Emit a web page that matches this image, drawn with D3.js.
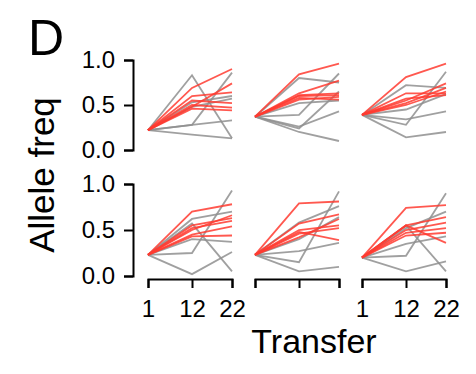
<!DOCTYPE html>
<html>
<head>
<meta charset="utf-8">
<script src="https://cdn.jsdelivr.net/npm/d3@7"></script>
<style>
  body { margin: 0; background: #fff; }
  svg text { font-family: "Liberation Sans", Arial, sans-serif; fill: #000; }
  .axis path, .axis line { stroke: #000; stroke-width: 2px; }
</style>
</head>
<body>
<div id="chart"></div>
<script>
// transfers sampled + axis ticks
const transfers = [1, 12, 22];
const yTicks = [0, 0.5, 1.0];

// allele freq at transfer 1, 12, 22 for each line
// top row
const p1Red = [[0.22, 0.69, 0.90], [0.22, 0.48, 0.74], [0.22, 0.60, 0.64], [0.22, 0.55, 0.52], [0.22, 0.50, 0.47], [0.22, 0.46, 0.44]];
const p1Gray = [[0.22, 0.83, 0.13], [0.22, 0.17, 0.13], [0.22, 0.28, 0.86], [0.22, 0.28, 0.33], [0.22, 0.48, 0.57], [0.22, 0.53, 0.60]];
const p2Red = [[0.37, 0.84, 0.96], [0.37, 0.63, 0.77], [0.37, 0.61, 0.63], [0.37, 0.60, 0.61], [0.37, 0.58, 0.56], [0.37, 0.56, 0.59]];
const p2Gray = [[0.37, 0.80, 0.75], [0.37, 0.39, 0.85], [0.37, 0.26, 0.43], [0.37, 0.20, 0.10], [0.37, 0.24, 0.65], [0.37, 0.52, 0.55]];
const p3Red = [[0.39, 0.81, 0.96], [0.39, 0.63, 0.63], [0.39, 0.55, 0.74], [0.39, 0.52, 0.69], [0.39, 0.57, 0.61], [0.39, 0.50, 0.65]];
const p3Gray = [[0.39, 0.72, 0.69], [0.39, 0.28, 0.87], [0.39, 0.34, 0.43], [0.39, 0.14, 0.20], [0.39, 0.45, 0.62]];
// bottom row
const p4Red = [[0.23, 0.70, 0.78], [0.23, 0.55, 0.63], [0.23, 0.52, 0.60], [0.23, 0.45, 0.54], [0.23, 0.43, 0.44], [0.23, 0.50, 0.66]];
const p4Gray = [[0.23, 0.25, 0.93], [0.23, 0.02, 0.26], [0.23, 0.57, 0.05], [0.23, 0.62, 0.70], [0.23, 0.40, 0.37]];
const p5Red = [[0.23, 0.79, 0.81], [0.23, 0.57, 0.67], [0.23, 0.46, 0.52], [0.23, 0.48, 0.39], [0.23, 0.42, 0.62], [0.23, 0.50, 0.55]];
const p5Gray = [[0.23, 0.15, 0.92], [0.23, 0.05, 0.10], [0.23, 0.27, 0.36], [0.23, 0.58, 0.76], [0.23, 0.40, 0.64]];
const p6Red = [[0.20, 0.74, 0.77], [0.20, 0.55, 0.64], [0.20, 0.50, 0.58], [0.20, 0.47, 0.52], [0.20, 0.55, 0.36], [0.20, 0.44, 0.47]];
const p6Gray = [[0.20, 0.22, 0.90], [0.20, 0.05, 0.16], [0.20, 0.55, 0.05], [0.20, 0.52, 0.70], [0.20, 0.35, 0.43]];

const panels = [
    { row: 0, col: 0, red: p1Red, gray: p1Gray },
    { row: 0, col: 1, red: p2Red, gray: p2Gray },
    { row: 0, col: 2, red: p3Red, gray: p3Gray },
    { row: 1, col: 0, red: p4Red, gray: p4Gray },
    { row: 1, col: 1, red: p5Red, gray: p5Gray },
    { row: 1, col: 2, red: p6Red, gray: p6Gray }
];

const W = 476, H = 374;
const colLeft = [148, 255, 362];
const colWidth = 84;
const rowBottom = [150, 276];
const rowHeight = [90, 92];
const RED = "#ff3b30";
const GRAY = "#8f8f8f";

const svg = d3.select("#chart").append("svg")
    .attr("width", W)
    .attr("height", H);

panels.forEach(p => {
    let x = d3.scaleLinear().domain([1, 22]).range([colLeft[p.col], colLeft[p.col] + colWidth]);
    let y = d3.scaleLinear().domain([0, 1]).range([rowBottom[p.row], rowBottom[p.row] - rowHeight[p.row]]);

    let line = d3.line()
        .x((d, i) => x(transfers[i]))
        .y(d => y(d));

    let g = svg.append("g");
    g.selectAll(".gray-line")
        .data(p.gray)
        .enter().append("path")
        .attr("class", "gray-line")
        .attr("d", line)
        .attr("fill", "none")
        .attr("stroke", GRAY)
        .attr("stroke-opacity", 0.85)
        .attr("stroke-width", 1.8);
    g.selectAll(".red-line")
        .data(p.red)
        .enter().append("path")
        .attr("class", "red-line")
        .attr("d", line)
        .attr("fill", "none")
        .attr("stroke", RED)
        .attr("stroke-opacity", 0.85)
        .attr("stroke-width", 1.8);

    // y axis only on the left column
    if (p.col === 0) {
        let yAxis = d3.axisLeft(y)
            .tickValues(yTicks)
            .tickFormat(d3.format(".1f"))
            .tickSize(9)
            .tickPadding(9);
        svg.append("g")
            .attr("class", "axis")
            .attr("transform", `translate(${colLeft[0] - 15}, 0)`)
            .call(yAxis)
            .selectAll("text")
            .style("font-size", "24px");
    }

    // x axis only on the bottom row
    if (p.row === 1) {
        let xAxis = d3.axisBottom(x)
            .tickValues(transfers)
            .tickFormat(p.col === 1 ? "" : d3.format("d"))
            .tickSize(9)
            .tickPadding(12);
        svg.append("g")
            .attr("class", "axis")
            .attr("transform", `translate(0, ${rowBottom[1] + 3})`)
            .call(xAxis)
            .selectAll("text")
            .style("font-size", "24px");
    }
});

svg.selectAll(".axis .domain").attr("fill", "none");

// labels
svg.append("text")
    .attr("x", 28)
    .attr("y", 55)
    .style("font-size", "50px")
    .text("D");

svg.append("text")
    .attr("transform", "translate(54, 175) rotate(-90)")
    .attr("text-anchor", "middle")
    .style("font-size", "35px")
    .text("Allele freq");

svg.append("text")
    .attr("x", 314)
    .attr("y", 353)
    .attr("text-anchor", "middle")
    .style("font-size", "34px")
    .text("Transfer");
</script>
</body>
</html>
